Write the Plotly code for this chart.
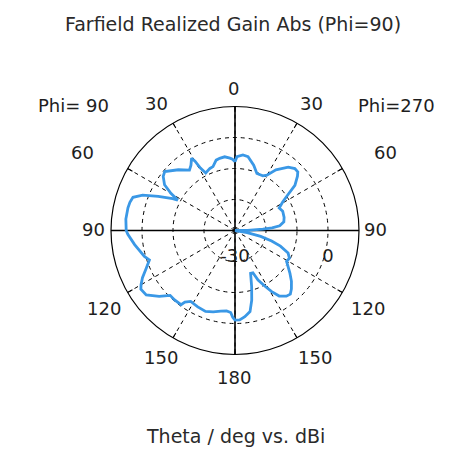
import plotly.graph_objects as go

# ---- data (Phi=90 cut, two half-planes) ----
theta_phi90 = [0, 2, 4, 8, 12, 15, 19, 22, 27, 29, 30, 31, 34, 37, 43, 50, 53, 57, 60, 62,
               63, 66, 69, 72, 75, 78, 84, 90, 92, 98, 106, 109, 113, 117, 120, 122, 126,
               131, 135, 139, 144, 145, 148, 154, 160, 165, 170, 174, 177, 178.5, 180]
gain_phi90 = [-7.8, -7.0, -6.6, -6.0, -6.2, -6.5, -8.2, -8.4, -9.2, -7.0, -4.2, -2.8, -4.6,
              -5.6, -3.2, -0.4, -1.0, -2.9, -6.2, -9.1, -7.4, -2.9, 1.9, 4.6, 5.1, 5.3, 5.4,
              5.1, 4.6, 2.7, 0.4, -0.8, 1.1, 3.5, 5.0, 5.8, 5.4, 2.4, -0.4, -0.3, -0.4, -1.8,
              -3.0, -2.6, -2.2, -2.8, -3.6, -3.9, -3.5, -2.0, -1.1]

theta_phi270 = [0, 1.5, 6, 10, 16, 21, 27, 30, 34, 40, 44, 47, 49, 53, 56, 59, 63, 68, 75, 80,
                84, 86, 87, 89, 92, 96, 100, 103, 106, 109, 113, 117, 121, 124, 128, 132, 136,
                139, 142, 146, 149, 152, 155, 157, 160, 163.5, 166.5, 169.5, 173.5, 177, 180]
gain_phi270 = [-7.8, -6.2, -5.5, -5.8, -8.1, -10.3, -10.2, -9.4, -6.4, -3.3, -2.2, -2.3, -3.3,
               -5.8, -9.5, -12.0, -14.0, -13.4, -13.6, -14.0, -15.5, -18.0, -21.0, -26.0, -30,
               -30, -26.0, -21.5, -17.7, -14.5, -11.4, -10.3, -10.6, -9.4, -7.5, -5.5, -3.8,
               -2.8, -3.1, -4.5, -7.0, -9.8, -12.4, -15.2, -15.3, -11.1, -6.9, -3.4, -2.0,
               -1.1, -1.1]

angle_ticks = [0, 30, 60, 90, 120, 150, 180, 210, 240, 270, 300, 330]
R_MIN, R_MAX = -30, 10
ring_vals = [-30, -20, -10, 0]
ring_text = ["-30", "", "", "0"]

# full-circle angle: Phi=90 half on the left, Phi=270 half on the right (mirrored)
ang = list(theta_phi90) + [360 - t for t in reversed(theta_phi270)]
gain = list(gain_phi90) + list(reversed(gain_phi270))

FONT = "DejaVu Sans"
TXT = "#1e1e1e"

fig = go.Figure()

# solid cross-hair axes (0/180 and 90/270)
fig.add_trace(go.Scatterpolar(
    r=[R_MAX, R_MIN, R_MAX, None, R_MAX, R_MIN, R_MAX],
    theta=[0, 0, 180, None, 90, 90, 270],
    mode="lines", line=dict(color="black", width=1.6),
    hoverinfo="skip", showlegend=False))

fig.add_trace(go.Scatterpolar(
    r=gain, theta=ang, mode="lines",
    line=dict(color="#3a98e6", width=2.8),
    showlegend=False))

W, H = 459, 458
cx, cy, rad = 235, 230.5, 124

fig.update_layout(
    width=W, height=H,
    margin=dict(l=0, r=0, t=0, b=0, pad=0),
    paper_bgcolor="white",
    font=dict(family=FONT, color=TXT, size=18),
    polar=dict(
        domain=dict(x=[(cx - rad) / W, (cx + rad) / W],
                    y=[1 - (cy + rad) / H, 1 - (cy - rad) / H]),
        bgcolor="white",
        angularaxis=dict(
            rotation=90, direction="counterclockwise",
            tickmode="array", tickvals=angle_ticks,
            showticklabels=False,
            ticks="inside", ticklen=5, tickcolor="black",
            showline=True, linecolor="black", linewidth=1.2,
            showgrid=True, gridcolor="black", gridwidth=1, griddash="4px,4px",
        ),
        radialaxis=dict(
            range=[R_MIN, R_MAX], angle=0, side="clockwise",
            tickmode="array", tickvals=ring_vals, ticktext=ring_text,
            tickangle=0,
            ticks="outside", ticklen=9, tickcolor="rgba(0,0,0,0)",
            tickfont=dict(family=FONT, size=18, color=TXT),
            showline=False,
            showgrid=True, gridcolor="black", gridwidth=1, griddash="4px,4px",
        ),
    ),
)

# angle labels around the circle
labels = [
    ("0", 234, 88), ("30", 156, 103), ("30", 311, 103),
    ("60", 82, 152), ("60", 385, 152), ("90", 93, 230), ("90", 375, 230),
    ("120", 104, 308), ("120", 368, 308), ("150", 161, 357), ("150", 315, 357),
    ("180", 234, 377), ("Phi= 90", 73, 105), ("Phi=270", 396, 105),
]
for txt, x, y in labels:
    fig.add_annotation(text=txt, x=x / W, y=1 - y / H, xref="paper", yref="paper",
                       showarrow=False, xanchor="center", yanchor="middle",
                       font=dict(family=FONT, size=18, color=TXT))

fig.add_annotation(text="Farfield Realized Gain Abs (Phi=90)", x=232.5 / W, y=1 - 24 / H,
                   xref="paper", yref="paper", showarrow=False,
                   xanchor="center", yanchor="middle",
                   font=dict(family=FONT, size=19, color="#2a2a2a"))
fig.add_annotation(text="Theta / deg vs. dBi", x=235 / W, y=1 - 436 / H,
                   xref="paper", yref="paper", showarrow=False,
                   xanchor="center", yanchor="middle",
                   font=dict(family=FONT, size=19, color="#2a2a2a"))

fig.write_html("out.html")
